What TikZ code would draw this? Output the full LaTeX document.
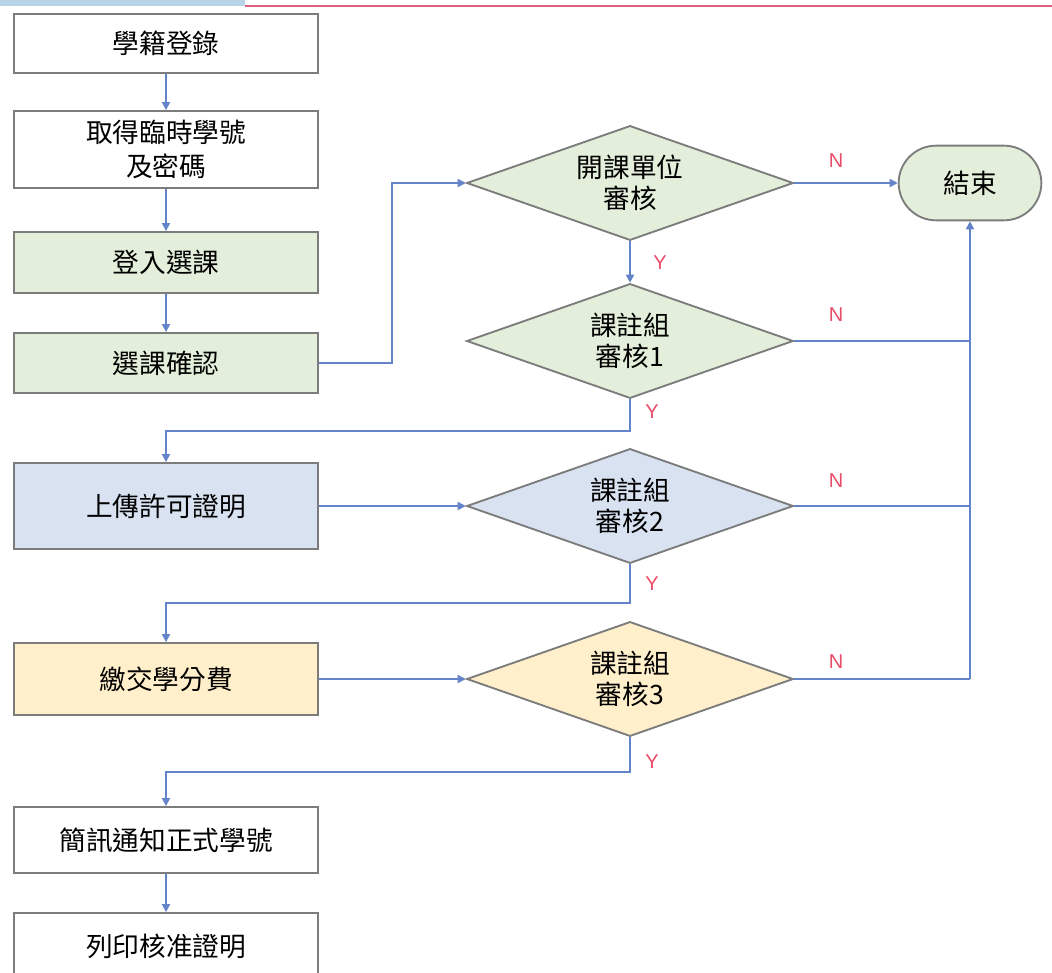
\documentclass[tikz,border=0pt]{standalone}
\usepackage{fontspec}
\newfontfamily\cjk{Noto Sans CJK TC}
\setsansfont{Liberation Sans}
\usetikzlibrary{shapes.geometric,arrows.meta}
\definecolor{linec}{HTML}{6384C8}
\definecolor{bord}{HTML}{7C7C7C}
\definecolor{gfill}{HTML}{E3EFDA}
\definecolor{bfill}{HTML}{D8E2F1}
\definecolor{yfill}{HTML}{FFF0CB}
\definecolor{labred}{HTML}{E84C68}
\definecolor{topblue}{HTML}{B9D3E6}
\definecolor{toppink}{HTML}{E0607E}
\begin{document}
\begin{tikzpicture}[x=0.75pt,y=-0.75pt,
  box/.style={draw=bord,line width=1.4pt,fill=white,minimum width=228pt,align=center,inner sep=0pt,
    font=\cjk\fontsize{20}{25}\selectfont},
  dec/.style={diamond,aspect=2.9,draw=bord,line width=1.4pt,minimum width=245pt,minimum height=86pt,inner sep=0pt,
    align=center,font=\cjk\fontsize{20}{23}\selectfont},
  term/.style={draw=bord,line width=1.4pt,fill=gfill,minimum width=107pt,minimum height=56pt,
    rounded corners=28pt,inner sep=0pt,font=\cjk\fontsize{20}{25}\selectfont},
  conn/.style={draw=linec,line width=1.3pt},
  arr/.style={conn,-{Triangle[length=6pt,width=6pt]}},
  lab/.style={text=labred,font=\sffamily\fontsize{15}{17}\selectfont,inner sep=0pt}]
\useasboundingbox (0,0) rectangle (1052,973);
\clip (0,0) rectangle (1052,973);
\fill[white] (0,0) rectangle (1052,973);
\fill[topblue] (0,0) rectangle (245,6);
\draw[toppink,line width=1.5pt] (245,6) -- (1052,6);

\node[box,minimum height=44.25pt] (b1) at (166,43.5) {學籍登錄};
\node[box,minimum height=57.75pt] (b2) at (166,149.5) {取得臨時學號\\及密碼};
\node[box,fill=gfill,minimum height=45.75pt] (b3) at (166,262.5) {登入選課};
\node[box,fill=gfill,minimum height=45pt] (b4) at (166,363) {選課確認};
\node[box,fill=bfill,minimum height=64.5pt] (b5) at (166,506) {上傳許可證明};
\node[box,fill=yfill,minimum height=54pt] (b6) at (166,679) {繳交學分費};
\node[box,minimum height=49.5pt] (b7) at (166,840) {簡訊通知正式學號};
\node[box,minimum height=49.5pt] (b8) at (166,946) {列印核准證明};

\node[dec,fill=gfill] (d1) at (630,183) {開課單位\\審核};
\node[dec,fill=gfill] (d2) at (630,341) {課註組\\審核1};
\node[dec,fill=bfill] (d3) at (630,506) {課註組\\審核2};
\node[dec,fill=yfill] (d4) at (630,679) {課註組\\審核3};

\node[term] (end) at (970,183) {結束};

\coordinate (c4) at (392,363);
\coordinate (j2) at (d2.east -| end.south);
\coordinate (j3) at (d3.east -| end.south);
\coordinate (j4) at (d4.east -| end.south);

\draw[arr] (b1) -- (b2);
\draw[arr] (b2) -- (b3);
\draw[arr] (b3) -- (b4);
\draw[arr] (b4.east) -- (c4) |- (d1.west);
\draw[arr] (d1.east) -- (end.west);
\node[lab] (n1) at (836,161) {N};
\draw[arr] (d1.south) -- (d2.north);
\node[lab] (y1) at (660,263) {Y};
\draw[conn] (d2.east) -- (j2);
\node[lab] (n2) at (836,315) {N};
\draw[arr] (d2.south) -- ++(0,32) -| (b5.north);
\node[lab] (y2) at (652,412) {Y};
\draw[arr] (b5.east) -- (d3.west);
\draw[conn] (d3.east) -- (j3);
\node[lab] (n3) at (836,481) {N};
\draw[arr] (d3.south) -- ++(0,39) -| (b6.north);
\node[lab] (y3) at (652,584) {Y};
\draw[arr] (b6.east) -- (d4.west);
\draw[conn] (d4.east) -- (j4);
\node[lab] (n4) at (836,662) {N};
\draw[arr] (j4) -- (end.south);
\draw[arr] (d4.south) -- ++(0,35) -| (b7.north);
\node[lab] (y4) at (652,762) {Y};
\draw[arr] (b7) -- (b8);
\end{tikzpicture}
\end{document}
